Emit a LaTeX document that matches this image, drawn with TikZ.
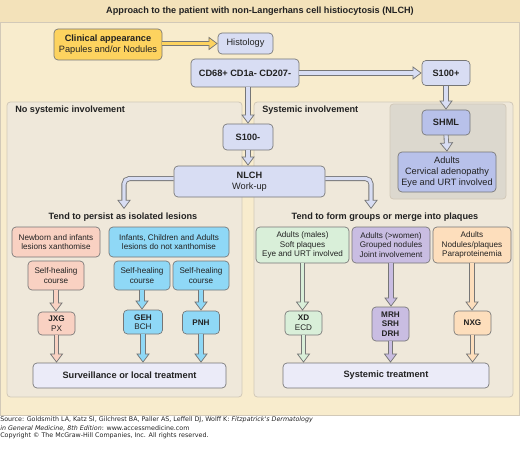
\documentclass[tikz,border=0pt]{standalone}
\usepackage{fontspec}
\setmainfont{Liberation Sans}
\newfontfamily\srcfont{DejaVu Sans}
\usetikzlibrary{arrows.meta}

% colours picked from the figure
\definecolor{outerbg}{HTML}{F8ECCD}
\definecolor{titlebg}{HTML}{F3E2BA}
\definecolor{panelbg}{HTML}{EFE8DA}
\definecolor{panelline}{HTML}{D2C9B8}
\definecolor{graypanel}{HTML}{DCD8CE}
\definecolor{edge}{HTML}{767676}
\definecolor{lav}{HTML}{D8DDF3}
\definecolor{lavdark}{HTML}{B8C1EA}
\definecolor{lavpale}{HTML}{EBEBF8}
\definecolor{yel}{HTML}{FDD35F}
\definecolor{salmon}{HTML}{F9D1C2}
\definecolor{sky}{HTML}{8FD8F6}
\definecolor{mint}{HTML}{D9EFD9}
\definecolor{lilac}{HTML}{C9BDE2}
\definecolor{peach}{HTML}{FDDEBC}
\definecolor{ink}{HTML}{222222}

\def\pxu{0.75pt}

\tikzset{
  box/.style={draw=edge, line width=0.5pt, rounded corners=3pt, fill=#1,
    align=center, inner sep=1pt, text=ink, font=\fontsize{6.9}{8.3}\selectfont},
  bold/.style={font=\fontsize{6.9}{8.3}\selectfont\bfseries},
  small/.style={font=\fontsize{6.1}{7.2}\selectfont},
  smallbold/.style={font=\fontsize{6.1}{7.2}\selectfont\bfseries},
  sz/.style 2 args={minimum width=#1*\pxu, minimum height=#2*\pxu},
  panel/.style={draw=panelline, line width=0.6pt, fill=#1, rounded corners=2.5pt},
  heading/.style={text=ink, inner sep=0pt, font=\fontsize{6.85}{8.3}\selectfont\bfseries},
  pipe/.style={draw=edge, line width=3.8pt, rounded corners=4pt,
    -{Triangle[length=6.8pt, width=10pt, fill=#1, line width=0.55pt]},
    postaction={draw=#1, line width=2.5pt, -, shorten >=5.8pt}},
  srcline/.style={anchor=west, inner sep=0pt, text=ink, font=\srcfont\fontsize{4.75}{5.5}\selectfont}
}

\begin{document}
\begin{tikzpicture}[x=\pxu, y=-\pxu]
  \useasboundingbox (0,0) rectangle (520,449);

  % background panels
  \fill[outerbg, draw=panelline, line width=0.4pt] (0,0) rectangle (519.5,415);
  \fill[titlebg] (0,0) rectangle (519.5,22);
  \draw[panelline, line width=0.6pt] (0,22) -- (519.5,22);
  \draw[panel=panelbg] (7,102) rectangle (242,397);
  \draw[panel=panelbg] (254,102) rectangle (513,397);
  \draw[panel=graypanel] (390,104) rectangle (506,199);

  \node[heading] (title) at (260,11) {Approach to the patient with non-Langerhans cell histiocytosis (NLCH)};
  \node[heading, anchor=west] (nosys) at (15,110) {No systemic involvement};
  \node[heading, anchor=west] (sys) at (262,110) {Systemic involvement};
  \node[heading] (persist) at (123,217) {Tend to persist as isolated lesions};
  \node[heading] (groups) at (385,217) {Tend to form groups or merge into plaques};

  % top of the chart
  \node[box=yel, sz={108}{31}] (clin) at (108,44.5) {\textbf{Clinical appearance}\\Papules and/or Nodules};
  \node[box=lav, sz={55}{21}] (hist) at (245.5,43.5) {Histology};
  \node[box=lav, sz={108}{28}, bold] (cd) at (245,73) {CD68+ CD1a- CD207-};
  \node[box=lav, sz={48}{25}, bold] (splus) at (446,73) {S100+};
  \node[box=lav, sz={50}{26}, bold] (sminus) at (248,137) {S100-};
  \node[box=lav, sz={151}{31}] (nlch) at (249.5,181.5) {\textbf{NLCH}\\Work-up};
  \node[box=lavdark, sz={48}{25}, bold] (shml) at (446,122.5) {SHML};
  \node[box=lavdark, sz={98}{40}] (adults) at (447,172) {Adults\\Cervical adenopathy\\Eye and URT involved};

  % isolated lesions
  \node[box=salmon, sz={88}{30}, small] (newborn) at (56,242) {Newborn and infants\\lesions xanthomise};
  \node[box=sky, sz={120}{30}, small] (infants) at (169,242) {Infants, Children and Adults\\lesions do not xanthomise};
  \node[box=salmon, sz={56}{29}, small] (heal1) at (56,275.5) {Self-healing\\course};
  \node[box=sky, sz={56}{29}, small] (heal2) at (142,275.5) {Self-healing\\course};
  \node[box=sky, sz={56}{29}, small] (heal3) at (201,275.5) {Self-healing\\course};
  \node[box=salmon, sz={37}{23}, small] (jxg) at (56.5,323.5) {\textbf{JXG}\\PX};
  \node[box=sky, sz={39}{24}, small] (geh) at (143,322) {\textbf{GEH}\\BCH};
  \node[box=sky, sz={37}{23}, smallbold] (pnh) at (201,322.5) {PNH};
  \node[box=lavpale, sz={193}{25}, bold] (surv) at (129.5,375.5) {Surveillance or local treatment};

  % groups and plaques
  \node[box=mint, sz={93}{36}, small] (males) at (302.5,245) {Adults (males)\\Soft plaques\\Eye and URT involved};
  \node[box=lilac, sz={78}{36}, small] (women) at (391,245) {Adults (>women)\\Grouped nodules\\Joint involvement};
  \node[box=peach, sz={78}{36}, small] (nodpl) at (472,245) {Adults\\Nodules/plaques\\Paraproteinemia};
  \node[box=mint, sz={37}{24}, small] (xd) at (303.5,323) {\textbf{XD}\\ECD};
  \node[box=lilac, sz={37}{34}, smallbold] (mrh) at (390.5,324) {MRH\\SRH\\DRH};
  \node[box=peach, sz={37}{24}, smallbold] (nxg) at (472.5,323) {NXG};
  \node[box=lavpale, sz={206}{25}, bold] (syst) at (386,375.5) {Systemic treatment};

  \coordinate (lbranch) at (124,209);
  \coordinate (rbranch) at (371,209);

  % arrows
  \draw[pipe=yel] (clin.east |- hist) -- (hist.west);
  \draw[pipe=lav] (cd.east) -- (splus.west);
  \draw[pipe=lav] (sminus.north |- cd.south) -- (sminus.north);
  \draw[pipe=lav] (sminus.south) -- (sminus.south |- nlch.north);
  \draw[pipe=lav] ([yshift=2.2pt]nlch.west) -| (lbranch);
  \draw[pipe=lav] ([yshift=2.2pt]nlch.east) -| (rbranch);
  \draw[pipe=lav] (splus.south) -- (shml.north);
  \draw[pipe=lav] (shml.south) -- (adults.north);

  \draw[pipe=salmon] (heal1.south) -- (heal1.south |- jxg.north);
  \draw[pipe=sky] (heal2.south) -- (heal2.south |- geh.north);
  \draw[pipe=sky] (heal3.south) -- (heal3.south |- pnh.north);
  \draw[pipe=salmon] (jxg.south) -- (jxg.south |- surv.north);
  \draw[pipe=sky] (geh.south) -- (geh.south |- surv.north);
  \draw[pipe=sky] (pnh.south) -- (pnh.south |- surv.north);

  \draw[pipe=mint] (males.south) -- (males.south |- xd.north);
  \draw[pipe=lilac] (women.south) -- (women.south |- mrh.north);
  \draw[pipe=peach] (nodpl.south) -- (nodpl.south |- nxg.north);
  \draw[pipe=mint] (xd.south) -- (xd.south |- syst.north);
  \draw[pipe=lilac] (mrh.south) -- (mrh.south |- syst.north);
  \draw[pipe=peach] (nxg.south) -- (nxg.south |- syst.north);

  % source lines
  \node[srcline] (src1) at (0,420) {Source: Goldsmith LA, Katz SI, Gilchrest BA, Paller AS, Leffell DJ, Wolff K: \textit{Fitzpatrick's Dermatology}};
  \node[srcline] (src2) at (0,428) {\textit{in General Medicine, 8th Edition}: www.accessmedicine.com};
  \node[srcline] (copy) at (0,436) {Copyright \textcopyright{} The McGraw-Hill Companies, Inc. All rights reserved.};
\end{tikzpicture}
\end{document}
